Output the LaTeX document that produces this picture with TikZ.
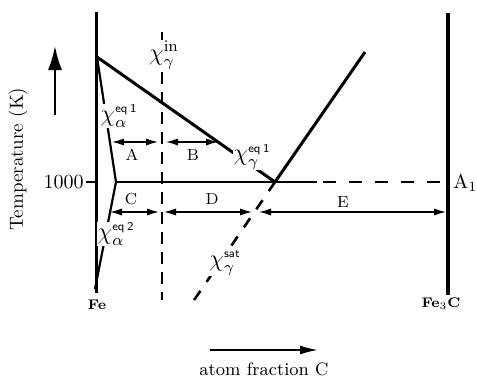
\documentclass[tikz,border=0pt]{standalone}
\usepackage{amsmath,amssymb}
\usepackage{tikz}
\usetikzlibrary{arrows.meta,positioning,calc}
\tikzstyle{bnd}    = [line width=1.5pt]
\tikzstyle{abnd}   = [line width=1.1pt]
\tikzstyle{dbnd}   = [line width=1.1pt, dash pattern=on 6pt off 4pt]
\tikzstyle{span}   = [{Latex[length=6pt,width=3.6pt]}-{Latex[length=6pt,width=3.6pt]},
                      line width=0.7pt]
\tikzstyle{clab}   = [fill=white, inner sep=0.3pt, font=\large]
\tikzstyle{seg}    = [font=\footnotesize]
\tikzstyle{endlab} = [font=\scriptsize\bfseries]

\begin{document}
\begin{tikzpicture}[x=0.5pt, y=-0.5pt]
\useasboundingbox (0,0) rectangle (477,381);
% key points
\coordinate (fetop) at (96,12);
\coordinate (febot) at (96,293);
\coordinate (cmtop) at (448,13);
\coordinate (cmbot) at (448,295);
\coordinate (peak) at (97,57);
\coordinate (knee) at (116,182);
\coordinate (abot) at (95,289);
\coordinate (eut) at (275,182);
\coordinate (solend) at (317,182);
\coordinate (dstart) at (323,182);
\coordinate (aone) at (448,182);
\coordinate (sattop) at (365,52);
\coordinate (satbot) at (190,306);
\coordinate (intop) at (162,32);
\coordinate (inbot) at (162,300);
\coordinate (tick) at (96,182);
% axes
\draw[bnd] (fetop) -- (febot);
\draw[bnd, line width=1.8pt] (cmtop) -- (cmbot);
\node[anchor=east, inner sep=1pt] (t1000) at (86,182) {1000};
\draw[line width=0.9pt] (t1000.east) -- (tick);
\node[anchor=west, inner sep=1pt] (alab) at (451,183) {A$_1$};
\node[endlab] (fe) at (97,305) {Fe};
\node[endlab] (fec) at (441,304) {Fe$_3$C};
% phase boundaries
\draw[bnd] (peak) -- (eut);
\draw[abnd] (peak) -- (knee) -- (abot);
\draw[line width=1.3pt] (knee) -- (solend);
\draw[line width=1.2pt, dash pattern=on 6.5pt off 6.5pt] (dstart) -- (aone);
\draw[bnd] (eut) -- (sattop);
\draw[line width=1.3pt, dash pattern=on 5.5pt off 5.5pt] (eut) -- (satbot);
\draw[dbnd] (intop) -- (inbot);
% boundary labels
\node[clab] (chiin) at (164,55) {$\chi_{\gamma}^{\mathrm{in}}$};
\node[clab] (aeq1) at (119,116) {$\chi_{\alpha}^{\scriptscriptstyle\mathsf{eq\,1}}$};
\node[clab] (aeq2) at (116,234) {$\chi_{\alpha}^{\scriptscriptstyle\mathsf{eq\,2}}$};
\node[clab] (geq1) at (252,157) {$\chi_{\gamma}^{\scriptscriptstyle\mathsf{eq\,1}}$};
\node[clab] (gsat) at (225,263) {$\chi_{\gamma}^{\scriptscriptstyle\mathsf{sat}}$};
% distances
\coordinate (aL) at (112,142);
\coordinate (aR) at (158,142);
\coordinate (bL) at (166,142);
\coordinate (bR) at (218,142);
\coordinate (cL) at (110,212);
\coordinate (cR) at (159,212);
\coordinate (dL) at (164,212);
\coordinate (dR) at (252,212);
\coordinate (eL) at (259,212);
\coordinate (eR) at (446,212);
\draw[span] (aL) -- (aR);
\draw[span] (bL) -- (bR);
\draw[span] (cL) -- (cR);
\draw[span] (dL) -- (dR);
\draw[span] (eL) -- (eR);
\node[seg] (la) at (132,155) {A};
\node[seg] (lb) at (193,155) {B};
\node[seg] (lc) at (131,199) {C};
\node[seg] (ld) at (212,199) {D};
\node[seg] (le) at (343,202) {E};
% axis titles
\coordinate (tup0) at (55,115);
\coordinate (tup1) at (55,46);
\draw[-{Latex[length=12pt,width=7pt]}, line width=1pt] (tup0) -- (tup1);
\node[rotate=90, font=\fontsize{9.5}{11}\selectfont] (tlab) at (18,159) {Temperature (K)};
\coordinate (xa0) at (210,350);
\coordinate (xa1) at (318,350);
\draw[-{Latex[length=9pt,width=4.5pt]}, line width=0.9pt] (xa0) -- (xa1);
\node[font=\small] (xlab) at (264,369) {atom fraction C};
\end{tikzpicture}
\end{document}
